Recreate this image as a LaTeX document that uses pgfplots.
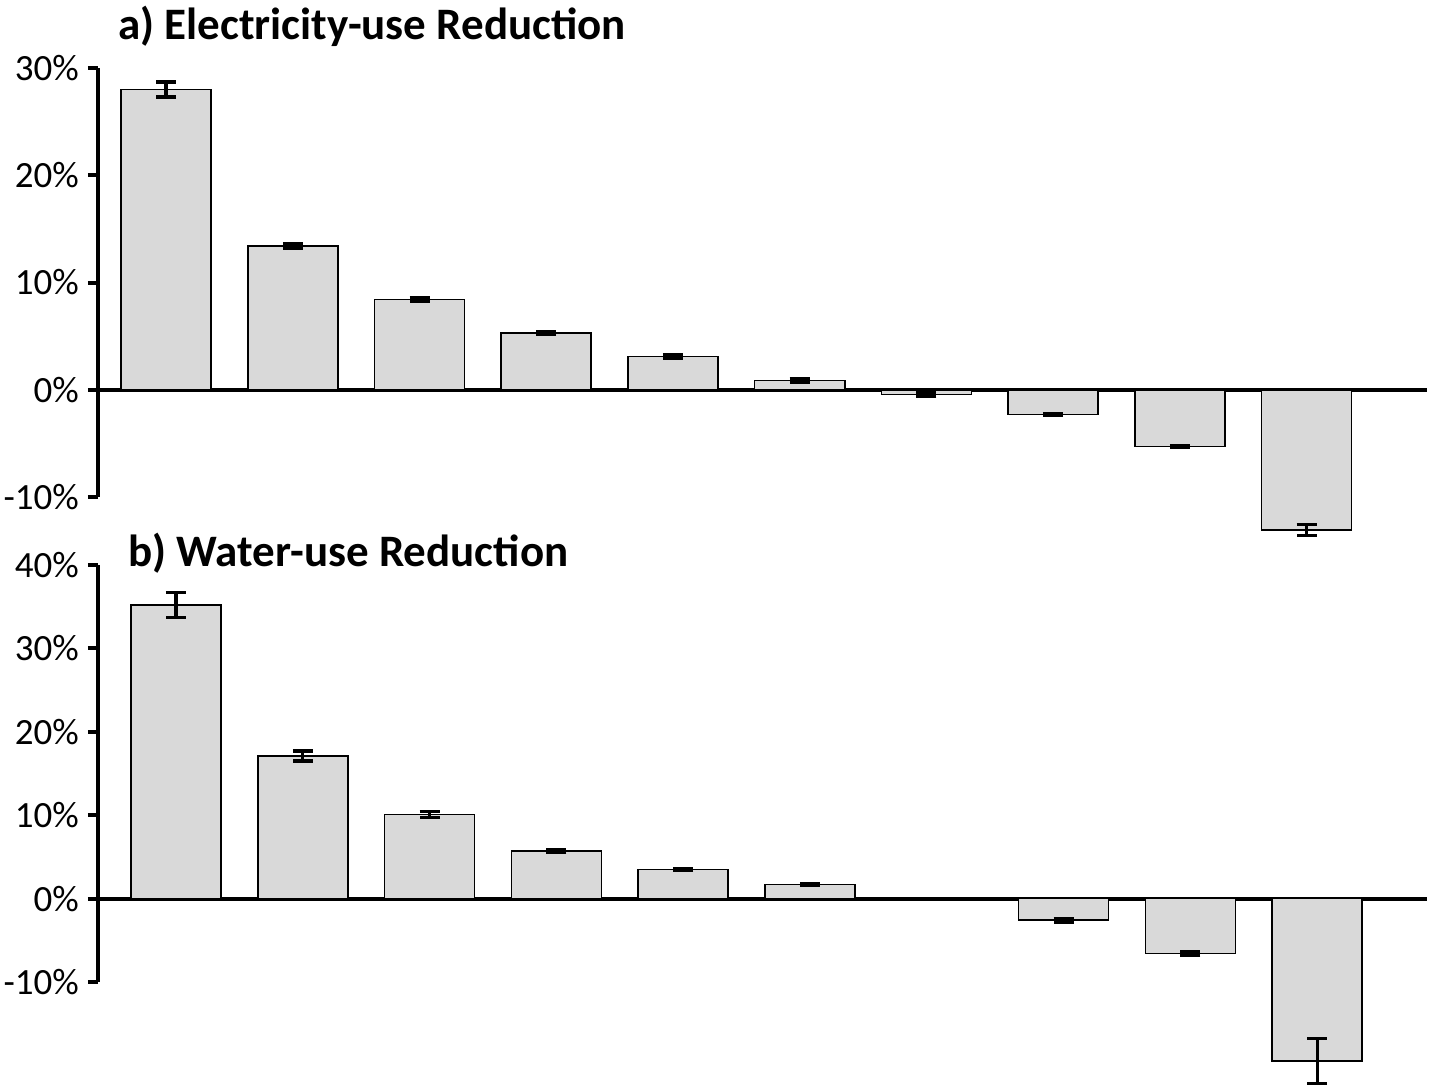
\documentclass[border=0pt]{standalone}
\usepackage{fontspec}
\setmainfont{Carlito}
\usepackage{pgfplots}
\pgfplotsset{compat=1.18}
\definecolor{barfill}{HTML}{D9D9D9}
\pgfplotsset{
  myax/.style={
    scale only axis,
    width=664.5pt,
    axis y line=left,
    axis x line=middle,
    x axis line style={-, line width=2pt, black},
    y axis line style={-, line width=2pt, black},
    xtick=\empty,
    tick align=outside,
    major tick length=5pt,
    ytick style={line width=2pt, black},
    tick label style={font=\fontsize{18.5}{18.5}\selectfont},
    yticklabel style={xshift=-1pt},
    clip=false,
    ybar,
    bar width=45pt,
    /pgf/number format/assume math mode=true,
  },
  mybar/.style={
    fill=barfill, draw=black, line width=0.8pt,
    error bars/.cd, y dir=both, y explicit,
    error bar style={line width=1.6pt, black},
    error mark options={rotate=90, mark size=5pt, line width=1.6pt, black},
  }
}
\begin{document}
\begin{tikzpicture}
\useasboundingbox (0,0) rectangle (717pt,-543pt);
% top panel
\begin{axis}[myax,
  at={(49pt,-248.5pt)}, anchor=south west,
  height=214.5pt,
  xmin=-0.537, xmax=9.95,
  ymin=-10, ymax=30,
  ytick={-10,0,10,20,30},
  yticklabels={-10\%,0\%,10\%,20\%,30\%},
]
\addplot[mybar] coordinates {
 (0,28.0) +- (0,0.7)
 (1,13.4) +- (0,0.2)
 (2,8.4) +- (0,0.15)
 (3,5.3) +- (0,0.15)
 (4,3.1) +- (0,0.15)
 (5,0.85) +- (0,0.15)
 (6,-0.45) +- (0,0.15)
 (7,-2.3) +- (0,0.1)
 (8,-5.3) +- (0,0.1)
 (9,-13.1) +- (0,0.5)
};
\end{axis}
% bottom panel
\begin{axis}[myax,
  at={(49pt,-491pt)}, anchor=south west,
  height=208.5pt,
  xmin=-0.615, xmax=9.866,
  ymin=-10, ymax=40,
  ytick={-10,0,10,20,30,40},
  yticklabels={-10\%,0\%,10\%,20\%,30\%,40\%},
]
\addplot[mybar] coordinates {
 (0,35.2) +- (0,1.5)
 (1,17.1) +- (0,0.6)
 (2,10.1) +- (0,0.35)
 (3,5.7) +- (0,0.15)
 (4,3.5) +- (0,0.15)
 (5,1.7) +- (0,0.1)
 (7,-2.6) +- (0,0.25)
 (8,-6.6) +- (0,0.25)
 (9,-19.5) +- (0,2.7)
};
\end{axis}
\node[anchor=base west, inner sep=0pt, font=\bfseries\fontsize{22.5}{22.5}\selectfont] at (59pt,-20pt) {a) Electricity-use Reduction};
\node[anchor=base west, inner sep=0pt, font=\bfseries\fontsize{22.5}{22.5}\selectfont] at (64pt,-283pt) {b) Water-use Reduction};
\end{tikzpicture}
\end{document}
